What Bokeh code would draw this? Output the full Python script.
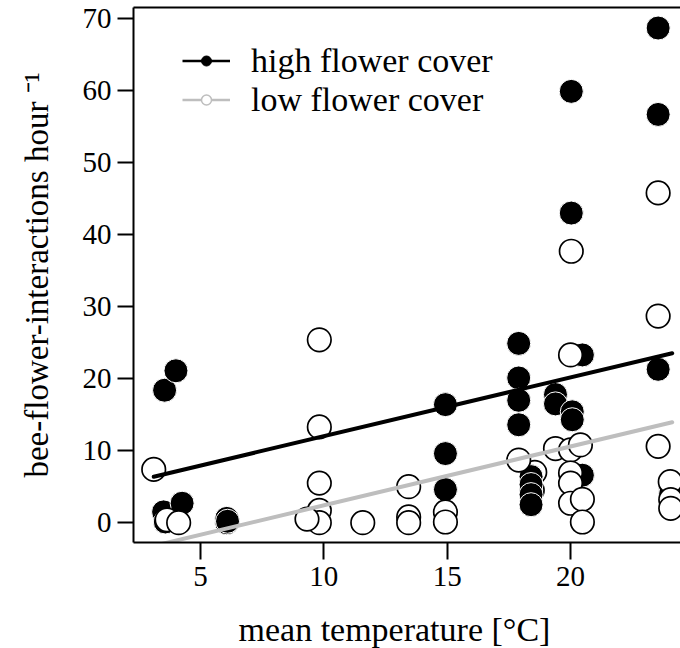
from bokeh.plotting import figure
from bokeh.models import (Range1d, LinearAxis, FixedTicker, Legend, Title,
                          LegendItem, ColumnDataSource)
from bokeh.embed import file_html
from bokeh.resources import INLINE

# ---------------- data ----------------
high_x = [3.55, 4.01, 3.51, 3.58, 4.26, 6.07, 6.07, 6.10,
          14.93, 14.93, 14.93,
          17.90, 17.90, 17.90, 17.90, 18.40, 18.40, 18.40, 18.40,
          20.03, 20.03, 20.48, 19.39, 19.39, 20.07, 20.07, 20.48,
          23.55, 23.55, 23.55, 24.06, 24.06]
high_y = [18.4, 21.1, 1.5, 0.1, 2.7, 0.0, 0.6, 0.2,
          16.4, 9.6, 4.6,
          24.9, 20.1, 17.0, 13.6, 6.4, 5.3, 3.9, 2.5,
          59.9, 43.0, 23.3, 17.8, 16.5, 15.4, 14.3, 6.6,
          68.7, 56.7, 21.3, 4.8, 4.1]

low_x = [3.11, 3.65, 4.12,
         9.82, 9.82, 9.82, 9.82, 9.82, 9.32, 11.58,
         13.44, 13.44, 13.44, 14.93, 14.93,
         17.90, 18.55, 18.45,
         20.03, 20.00, 19.39, 20.00, 20.40, 20.00, 20.00, 20.00, 20.48, 20.48,
         23.55, 23.55, 23.55, 24.04, 24.06, 24.06]
low_y = [7.4, 0.4, 0.0,
         25.4, 13.3, 5.5, 1.7, 0.0, 0.5, 0.0,
         5.0, 0.8, 0.0, 1.5, 0.1,
         8.7, 7.0, 4.5,
         37.7, 23.3, 10.3, 10.1, 10.8, 6.9, 5.5, 2.7, 3.25, 0.1,
         45.8, 28.7, 10.6, 5.7, 3.2, 2.0]
# low-cover points that lie underneath the high-cover points
low_behind = [16, 17]

fit_x = [3.11, 24.12]
high_fit_y = [6.39, 23.54]
low_fit_y = [-3.22, 13.95]

x_ticks = [5, 10, 15, 20]
y_ticks = [0, 10, 20, 30, 40, 50, 60, 70]

series_labels = ["high flower cover", "low flower cover"]
x_title = "mean temperature [\u00b0C]"
y_title = "bee-flower-interactions hour \u207b\u00b9"

FONT = "Liberation Serif"
GRAY = "#BEBEBE"
NAN = float("nan")

# ---------------- figure ----------------
p = figure(width=680, height=648, output_backend="svg", toolbar_location=None,
           x_range=Range1d(2.29, 24.456), y_range=Range1d(-2.75, 71.55),
           x_axis_type=None, y_axis_type=None,
           min_border_left=133, min_border_right=0,
           min_border_top=7, min_border_bottom=106)
p.outline_line_color = None
p.background_fill_color = "white"
p.border_fill_color = "white"
p.xgrid.visible = False
p.ygrid.visible = False


def style_axis(ax, ticks, standoff, tick_out):
    ax.ticker = FixedTicker(ticks=ticks)
    ax.axis_line_width = 2
    ax.axis_line_color = "black"
    ax.major_tick_line_width = 2
    ax.major_tick_line_color = "black"
    ax.major_tick_in = 0
    ax.major_tick_out = tick_out
    ax.minor_tick_line_color = None
    ax.major_label_text_font = FONT
    ax.major_label_text_font_size = "29px"
    ax.major_label_text_color = "black"
    ax.major_label_standoff = standoff


xaxis = LinearAxis()
style_axis(xaxis, x_ticks, 7, 17)
p.add_layout(xaxis, "below")
# blank spacer between the tick labels and the x title
p.add_layout(Title(text=" ", text_font_size="1px", standoff=17), "below")
p.add_layout(Title(text=x_title, align="left", offset=105, standoff=0,
                   vertical_align="bottom",
                   text_font=FONT, text_font_size="34px",
                   text_font_style="normal", text_color="black"), "below")

yaxis = LinearAxis()
style_axis(yaxis, y_ticks, 6, 16)
yaxis.major_label_orientation = "horizontal"
yaxis.axis_label = y_title
yaxis.axis_label_text_font = FONT
yaxis.axis_label_text_font_size = "33px"
yaxis.axis_label_text_font_style = "normal"
yaxis.axis_label_text_color = "black"
yaxis.axis_label_standoff = 25
p.add_layout(yaxis, "left")

top_axis = LinearAxis(ticker=FixedTicker(ticks=[]))
top_axis.axis_line_width = 2
top_axis.axis_line_color = "black"
top_axis.major_tick_out = 0
top_axis.major_tick_in = 0
top_axis.minor_tick_out = 0
top_axis.minor_tick_in = 0
top_axis.major_label_text_font_size = "0px"
p.add_layout(top_axis, "above")

# ---------------- points ----------------
lo_back_src = ColumnDataSource(dict(x=[low_x[i] for i in low_behind],
                                    y=[low_y[i] for i in low_behind]))
lo_front_src = ColumnDataSource(dict(
    x=[v for i, v in enumerate(low_x) if i not in low_behind],
    y=[v for i, v in enumerate(low_y) if i not in low_behind]))
hi_src = ColumnDataSource(dict(x=high_x, y=high_y))

open_style = dict(marker="circle", size=23.5, fill_color="white",
                  line_color="black", line_width=1.7)
p.scatter("x", "y", source=lo_back_src, **open_style)
p.scatter("x", "y", source=hi_src, marker="circle", size=24,
          fill_color="black", line_color="white", line_width=1)
p.scatter("x", "y", source=lo_front_src, **open_style)

# ---------------- fitted lines ----------------
p.line(fit_x, high_fit_y, line_color="black", line_width=4, line_cap="round")
p.line(fit_x, low_fit_y, line_color=GRAY, line_width=4, line_cap="round")

# ---------------- legend (proxy renderers without visible data) ----------------
lg_hi_line = p.line(x=[NAN], y=[NAN], line_color="black", line_width=2.5)
lg_hi_pt = p.scatter(x=[NAN], y=[NAN], marker="circle", fill_color="black",
                     line_color="black", line_width=1)
lg_lo_line = p.line(x=[NAN], y=[NAN], line_color=GRAY, line_width=2.5)
lg_lo_pt = p.scatter(x=[NAN], y=[NAN], marker="circle", fill_color="white",
                     line_color=GRAY, line_width=1.5)

legend = Legend(items=[LegendItem(label=series_labels[0], renderers=[lg_hi_line, lg_hi_pt], index=0),
                       LegendItem(label=series_labels[1], renderers=[lg_lo_line, lg_lo_pt], index=0)],
                location=(49, 423), orientation="vertical",
                glyph_width=48, glyph_height=25, label_height=39,
                label_standoff=21, spacing=0, padding=0, margin=0,
                label_text_font=FONT, label_text_font_size="34px",
                label_text_color="black",
                border_line_color=None, background_fill_alpha=0)
p.add_layout(legend, "center")

open("out.html", "w").write(file_html(p, INLINE))
